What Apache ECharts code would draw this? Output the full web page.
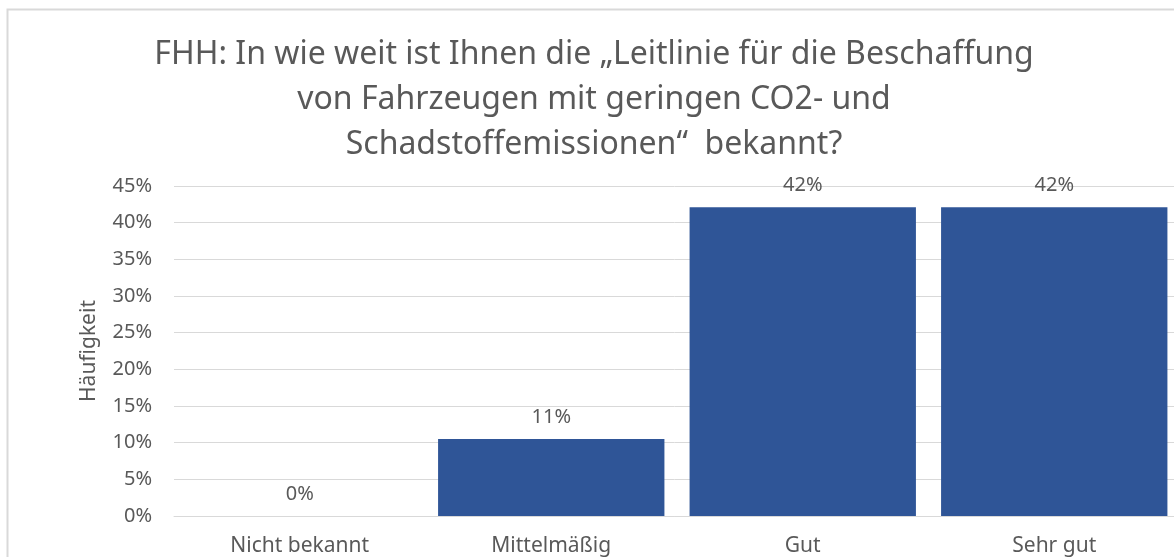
<!DOCTYPE html>
<html>
<head>
<meta charset="utf-8">
<script src="https://cdn.jsdelivr.net/npm/echarts@6/dist/echarts.min.js"></script>
<style>html,body{margin:0;padding:0;background:#fff;}#c{width:1174px;height:557px;}</style>
</head>
<body>
<div id="c"></div>
<script>
const titleText = 'FHH: In wie weit ist Ihnen die \u201ELeitlinie f\u00FCr die Beschaffung\nvon Fahrzeugen mit geringen CO2- und\nSchadstoffemissionen\u201C  bekannt?';
const categories = ['Nicht bekannt', 'Mittelm\u00E4\u00DFig', 'Gut', 'Sehr gut'];
const values = [0, 10.5, 42.1, 42.1];
const yTicks = { min: 0, max: 45, interval: 5 };
const yName = 'H\u00E4ufigkeit';

const chart = echarts.init(document.getElementById('c'));
chart.setOption({
  animation: false,
  backgroundColor: '#fff',
  title: {
    text: titleText,
    left: 594,
    top: 32,
    padding: 0,
    textAlign: 'center',
    textStyle: { fontFamily: 'Noto Sans', fontSize: 32, fontWeight: 'normal', color: '#595959', lineHeight: 45 }
  },
  graphic: [{
    type: 'rect',
    shape: { x: 7.5, y: 9.5, width: 1300, height: 700 },
    style: { fill: 'none', stroke: '#d9d9d9', lineWidth: 2 },
    silent: true, z: -1
  }],
  grid: { left: 174, width: 1006, top: 186, bottom: 41, containLabel: false, outerBoundsMode: 'none' },
  xAxis: {
    type: 'category',
    data: categories,
    axisTick: { show: false },
    axisLine: { show: true, lineStyle: { color: '#d9d9d9', width: 1 } },
    axisLabel: { color: '#595959', fontSize: 21, fontFamily: 'Noto Sans', margin: 20 }
  },
  yAxis: {
    type: 'value',
    min: yTicks.min, max: yTicks.max, interval: yTicks.interval,
    name: yName,
    nameLocation: 'middle',
    nameRotate: 90,
    nameGap: 74,
    nameTextStyle: { color: '#595959', fontSize: 21, fontFamily: 'Noto Sans' },
    axisLine: { show: false },
    axisTick: { show: false },
    axisLabel: { color: '#595959', fontSize: 20, fontFamily: 'Noto Sans', margin: 22, formatter: '{value}%' },
    splitLine: { lineStyle: { color: '#d9d9d9', width: 1 } }
  },
  series: [{
    type: 'bar',
    data: values,
    barCategoryGap: '10%',
    itemStyle: { color: '#2f5597' },
    label: {
      show: true, position: 'top', distance: 12,
      color: '#595959', fontSize: 20, fontFamily: 'Noto Sans',
      formatter: p => Math.round(p.value) + '%'
    }
  }]
});
</script>
</body>
</html>
